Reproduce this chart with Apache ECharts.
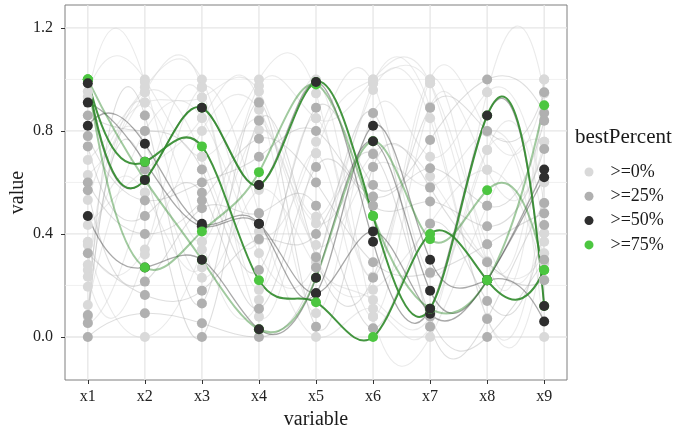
<!DOCTYPE html>
<html><head><meta charset="utf-8">
<script src="https://cdn.jsdelivr.net/npm/echarts@6/dist/echarts.min.js"></script>
<style>html,body{margin:0;padding:0;background:#fff}#c{width:683px;height:433px}</style>
</head><body><div id="c"></div>
<script>
// ---------- data ----------
const variables = ['x1','x2','x3','x4','x5','x6','x7','x8','x9'];
const groups = ['>=0%','>=25%','>=50%','>=75%'];
const yTicks = [0, 0.4, 0.8, 1.2];
const yMinor = [0.2, 0.6, 1.0];
const xTicks = [0,1,2,3,4,5,6,7,8];

const rowsLight = [
  [0.953, 1.00, 0.70, 1.00, 0.946, 0.234, 1.00, 0.797, 0.946],
  [0.933, 0.99, 0.37, 0.975, 0.849, 1.00, 0.985, 0.293, 1.00],
  [0.687, 0.97, 1.00, 0.41, 0.758, 0.985, 0.247, 0.726, 0.403],
  [0.629, 0.95, 0.97, 0.183, 0.713, 0.079, 0.894, 0.649, 0.758],
  [0.532, 0.91, 0.93, 0.953, 0.467, 0.959, 0.849, 0.073, 0.370],
  [0.435, 0.65, 0.85, 0.914, 0.092, 0.868, 0.70, 0.95, 0.519],
  [0.370, 0.34, 0.80, 0.882, 0.441, 0.713, 0.623, 0.293, 0.325],
  [0.357, 0.00, 0.34, 0.843, 0.357, 0.661, 0.584, 0.797, 0.286],
  [0.280, 0.56, 0.27, 0.804, 0.312, 0.183, 0.441, 0.649, 0.221],
  [0.260, 0.75, 0.23, 0.571, 0.273, 0.144, 0.079, 0.726, 0.00],
  [0.234, 0.32, 0.97, 0.481, 0.00, 0.11, 0.041, 0.95, 0.946],
  [0.195, 0.95, 0.70, 0.377, 1.00, 0.079, 0.00, 0.51, 0.758],
  [0.124, 0.80, 0.85, 0.325, 0.29, 0.985, 0.89, 0.073, 0.60],
  [0.079, 0.91, 0.37, 0.144, 0.849, 0.234, 1.00, 0.293, 1.00],
  [0.053, 0.56, 0.93, 0.079, 0.713, 1.00, 0.985, 0.36, 0.403]
];
const rowsMedium = [
  [0.86, 0.80, 0.65, 0.26, 0.89, 0.59, 0.765, 1.00, 0.87],
  [0.78, 0.53, 0.60, 0.70, 0.80, 0.545, 0.655, 0.51, 0.84],
  [0.74, 0.47, 0.56, 0.11, 0.66, 0.51, 0.526, 0.43, 0.73],
  [0.60, 0.40, 0.53, 0.77, 0.60, 0.29, 0.25, 0.36, 0.48],
  [0.57, 0.215, 0.50, 0.48, 0.51, 0.034, 0.44, 0.14, 0.435],
  [0.325, 0.163, 0.18, 0.38, 0.40, 0.71, 0.08, 0.00, 0.30],
  [0.085, 0.86, 0.13, 0.91, 0.04, 0.66, 0.58, 0.29, 0.22],
  [0.00, 0.092, 0.053, 0.00, 0.27, 0.87, 0.04, 0.07, 0.52],
  [0.054, 0.65, 0.00, 0.84, 0.31, 0.23, 0.89, 0.80, 0.95]
];
const rowsDark = [
  [0.82, 0.75, 0.44, 0.44, 0.17, 0.82, 0.30, 0.22, 0.06],
  [0.985, 0.61, 0.89, 0.59, 0.99, 0.37, 0.11, 0.86, 0.12],
  [0.47, 0.27, 0.30, 0.03, 0.23, 0.76, 0.18, 0.22, 0.65],
  [0.91, 0.68, 0.43, 0.44, 0.17, 0.41, 0.09, 0.22, 0.62]
];
const rowsGreen = [
  [1.00, 0.68, 0.74, 0.22, 0.135, 0.00, 0.40, 0.22, 0.26],
  [1.00, 0.61, 0.89, 0.59, 0.99, 0.47, 0.11, 0.86, 0.12],
  [1.00, 0.27, 0.41, 0.64, 0.98, 0.47, 0.11, 0.22, 0.90],
  [1.00, 0.61, 0.30, 0.03, 0.23, 0.76, 0.38, 0.57, 0.26]
];

// ---------- styles ----------
const pointColor = ['#d9d9d9', '#b0b0b0', '#2e2e2e', '#4cc640'];
const lineColor  = ['#d0d0d0', '#a8a8a8', '#333333', '#2f8a2a'];
const lineAlpha  = [0.45, 0.38, 0.42, 0.9];
const lineWidth  = [1.1, 1.1, 1.3, 2];
const greenAlpha = [0.9, 0.9, 0.45, 0.45];
const FONT = 'Liberation Serif';

const rowsByGroup = [rowsLight, rowsMedium, rowsDark, rowsGreen];
// draw order of the highlighted points: [group, row]
const topPointOrder = [[3,3],[2,0],[2,2],[2,3],[3,0],[3,2],[3,1],[2,1]];

// FMM cubic spline (as in R's spline()) converted to Bezier segments, in pixel space
function splinePath(pts) {
  const n = pts.length - 1;
  const h = (pts[n][0] - pts[0][0]) / n;
  const y = pts.map(p => p[1]);
  const h3 = h * h * h;
  const c0 = (y[3] - 3 * y[2] + 3 * y[1] - y[0]) / h3;
  const cn = (y[n] - 3 * y[n - 1] + 3 * y[n - 2] - y[n - 3]) / h3;
  const m = n - 1;
  const a = [], b = [], c = [], d = [];
  for (let i = 1; i <= n - 1; i++) {
    a.push(1); b.push(4); c.push(1);
    d.push(6 * (y[i + 1] - 2 * y[i] + y[i - 1]) / (h * h));
  }
  b[0] = 5; d[0] += h * c0;
  b[m - 1] = 5; d[m - 1] -= h * cn;
  for (let i = 1; i < m; i++) {
    const w = a[i] / b[i - 1];
    b[i] -= w * c[i - 1];
    d[i] -= w * d[i - 1];
  }
  const s = new Array(m);
  s[m - 1] = d[m - 1] / b[m - 1];
  for (let i = m - 2; i >= 0; i--) s[i] = (d[i] - c[i] * s[i + 1]) / b[i];
  const M = new Array(n + 1);
  for (let i = 1; i <= n - 1; i++) M[i] = s[i - 1];
  M[0] = M[1] - h * c0;
  M[n] = M[n - 1] + h * cn;
  let path = 'M' + pts[0][0] + ' ' + y[0];
  for (let i = 0; i < n; i++) {
    const sl = (y[i + 1] - y[i]) / h;
    const d0 = sl - h * (2 * M[i] + M[i + 1]) / 6;
    const d1 = sl + h * (M[i] + 2 * M[i + 1]) / 6;
    path += ' C' + (pts[i][0] + h / 3) + ' ' + (y[i] + d0 * h / 3) + ' ' +
      (pts[i + 1][0] - h / 3) + ' ' + (y[i + 1] - d1 * h / 3) + ' ' +
      pts[i + 1][0] + ' ' + y[i + 1];
  }
  return path;
}

const series = [];
function pointSeries(g, row) {
  return {
    type: 'scatter', name: groups[g], z: 4,
    symbol: 'circle', symbolSize: 10, silent: true,
    itemStyle: { color: pointColor[g], opacity: 1 },
    data: row.map((v, i) => [i, v])
  };
}
rowsLight.forEach(r => series.push(pointSeries(0, r)));
rowsMedium.forEach(r => series.push(pointSeries(1, r)));
topPointOrder.forEach(([g, k]) => series.push(pointSeries(g, rowsByGroup[g][k])));

[0, 1, 2, 3].forEach(g => {
  series.push({
    type: 'custom', name: groups[g], z: 2, silent: true,
    itemStyle: { color: pointColor[g] },
    dimensions: variables,
    encode: { x: 0, y: 1 },
    data: rowsByGroup[g],
    renderItem: function (params, api) {
      const pts = variables.map((_, i) => api.coord([i, api.value(i)]));
      const alpha = g === 3 ? greenAlpha[params.dataIndex] : lineAlpha[g];
      return {
        type: 'path',
        shape: { pathData: splinePath(pts) },
        style: { fill: 'none', stroke: lineColor[g], lineWidth: lineWidth[g], opacity: alpha }
      };
    }
  });
});

const gridData = [];
yTicks.forEach(v => gridData.push([0, v]));
yMinor.forEach(v => gridData.push([1, v]));
xTicks.forEach(v => gridData.push([2, v]));
series.push({
  type: 'custom', name: 'grid', z: 1, silent: true,
  data: gridData,
  renderItem: function (params, api) {
    const cs = params.coordSys;
    const kind = api.value(0), v = api.value(1);
    let shape;
    if (kind === 2) {
      const p = api.coord([v, 0]);
      shape = { x1: p[0], y1: cs.y, x2: p[0], y2: cs.y + cs.height };
    } else {
      const p = api.coord([0, v]);
      shape = { x1: cs.x, y1: p[1], x2: cs.x + cs.width, y2: p[1] };
    }
    return {
      type: 'line', shape: shape,
      style: { stroke: kind === 1 ? '#eeeeee' : '#e6e6e6', lineWidth: kind === 1 ? 0.8 : 1.3 }
    };
  }
});

const chart = echarts.init(document.getElementById('c'), null, { renderer: 'canvas' });
chart.setOption({
  animation: false,
  backgroundColor: '#ffffff',
  textStyle: { fontFamily: FONT },
  title: {
    text: 'bestPercent', left: 575, top: 127, padding: 0,
    textStyle: { fontFamily: FONT, fontSize: 21, fontWeight: 'normal', color: '#1a1a1a' }
  },
  legend: {
    data: groups, orient: 'vertical', left: 584.5, top: 163,
    icon: 'circle', itemWidth: 9, itemHeight: 9, itemGap: 6.3, padding: 0,
    selectedMode: false,
    textStyle: { fontFamily: FONT, fontSize: 18, color: '#1a1a1a', lineHeight: 18, padding: [0, 0, 0, 12] }
  },
  grid: {
    left: 65, right: 116, top: 5, bottom: 53, show: true,
    outerBoundsMode: 'none', containLabel: false,
    borderColor: '#7f7f7f', borderWidth: 1, backgroundColor: '#ffffff'
  },
  xAxis: {
    type: 'value', min: -0.4, max: 8.4,
    name: 'variable', nameLocation: 'middle', nameGap: 30, nameMoveOverlap: false,
    nameTextStyle: { fontFamily: FONT, fontSize: 20, color: '#1a1a1a' },
    axisLine: { show: false, onZero: false },
    axisTick: { show: true, customValues: xTicks, length: 4, lineStyle: { color: '#333' } },
    axisLabel: { customValues: xTicks, margin: 9, fontFamily: FONT, fontSize: 16, color: '#222',
      formatter: v => variables[Math.round(v)] },
    splitLine: { show: false }
  },
  yAxis: {
    type: 'value', min: -0.167, max: 1.289,
    name: 'value', nameLocation: 'middle', nameGap: 37, nameRotate: 90, nameMoveOverlap: false,
    nameTextStyle: { fontFamily: FONT, fontSize: 20, color: '#1a1a1a' },
    axisLine: { show: false, onZero: false },
    axisTick: { show: true, customValues: yTicks, length: 4, lineStyle: { color: '#333' } },
    axisLabel: { customValues: yTicks, margin: 12, fontFamily: FONT, fontSize: 16, color: '#222',
      formatter: v => v.toFixed(1) },
    splitLine: { show: false }
  },
  series: series
});
</script></body></html>
